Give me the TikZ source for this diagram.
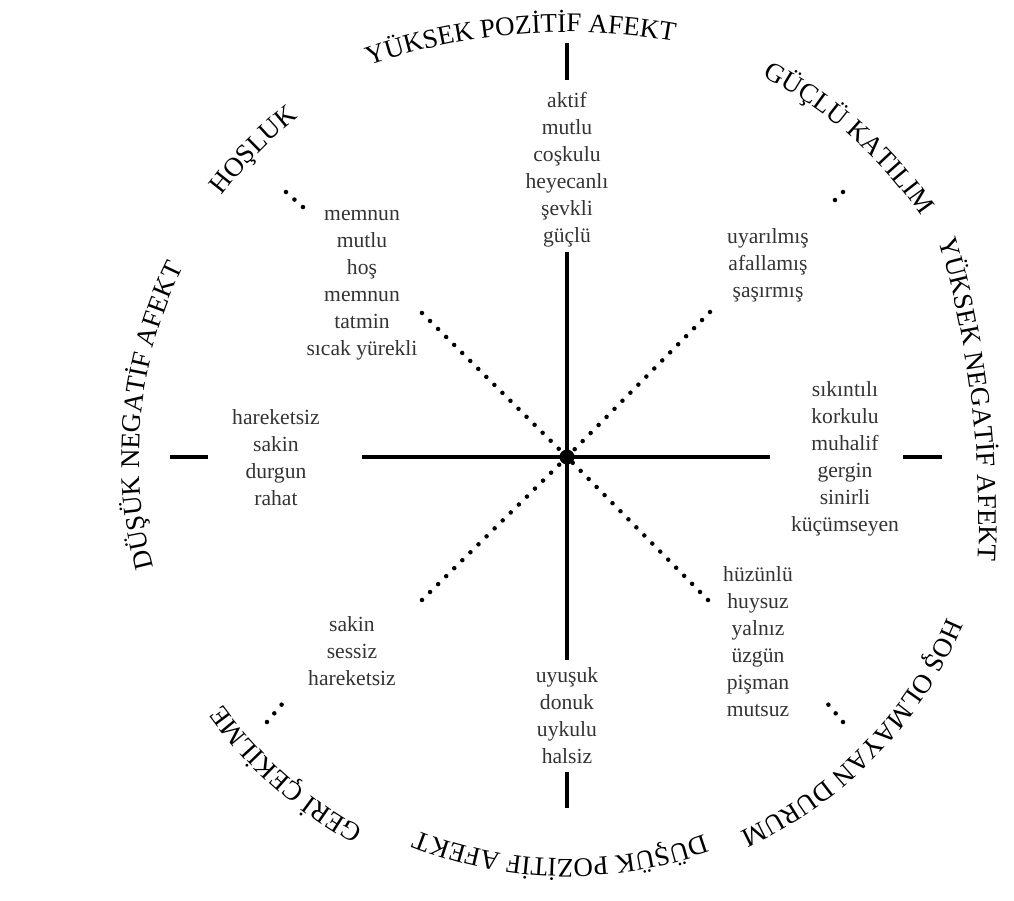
\documentclass[tikz,border=0pt]{standalone}
\usepackage{fontspec}
\setmainfont{Liberation Serif}
\usetikzlibrary{decorations.text}

\newcommand{\lblfont}{\fontsize{20.2}{24}\selectfont}
\newcommand{\wordfont}{\fontsize{16.2}{20.25}\selectfont}

\tikzset{
  axis/.style={line width=3.6pt},
  dotline/.style={line width=3.4pt, line cap=round, dash pattern=on 0pt off 8.5pt},
  words/.style={align=center, inner sep=0pt, text=black!80, font=\wordfont},
  arclabel/.style={decorate, decoration={text along path, text align=center,
      text={|\lblfont|#1}}}
}

\begin{document}
\begin{tikzpicture}[x=0.75pt,y=0.75pt]
  \useasboundingbox (-567,-443) rectangle (447,457);

  % Coordinates
  \coordinate (c) at (0,0);
  \coordinate (n-in) at (0,205);     \coordinate (n-a) at (0,377);    \coordinate (n-b) at (0,414);
  \coordinate (s-in) at (0,-203);    \coordinate (s-a) at (0,-315);   \coordinate (s-b) at (0,-351);
  \coordinate (w-in) at (-205,0);    \coordinate (w-a) at (-359,0);   \coordinate (w-b) at (-397,0);
  \coordinate (e-in) at (203,0);     \coordinate (e-a) at (336,0);    \coordinate (e-b) at (375,0);
  \coordinate (nw-in) at (-145,144); \coordinate (nw-a) at (-263,249); \coordinate (nw-b) at (-281,265);
  \coordinate (ne-in) at (143,145);  \coordinate (ne-a) at (260,249);  \coordinate (ne-b) at (276,265);
  \coordinate (sw-in) at (-145,-143); \coordinate (sw-a) at (-284,-246); \coordinate (sw-b) at (-300,-265);
  \coordinate (se-in) at (141,-143); \coordinate (se-a) at (260,-246); \coordinate (se-b) at (276,-265);

  % dotted diagonals with their outer stubs
  \foreach \d in {nw,ne,sw,se}{
    \draw[dotline] (\d-in) -- (c);
    \draw[dotline] (\d-b) -- (\d-a);
  }

  % solid axes with their outer stubs
  \draw[axis] (n-in) -- (s-in);
  \draw[axis] (w-in) -- (e-in);
  \foreach \d in {n,s,w,e}
    \draw[axis] (\d-a) -- (\d-b);
  \fill (c) circle[radius=7.5];

  % word lists
  \node[words] (hpa) at (0,287.5) {aktif\\mutlu\\coşkulu\\heyecanlı\\şevkli\\güçlü};
  \node[words] (ple) at (-205,171.5) {memnun\\mutlu\\hoş\\memnun\\tatmin\\sıcak yürekli};
  \node[words] (eng) at (201,192) {uyarılmış\\afallamış\\şaşırmış};
  \node[words] (lna) at (-291,-0.5) {hareketsiz\\sakin\\durgun\\rahat};
  \node[words] (hna) at (278,-1.5) {sıkıntılı\\korkulu\\muhalif\\gergin\\sinirli\\küçümseyen};
  \node[words] (dis) at (-215,-194.5) {sakin\\sessiz\\hareketsiz};
  \node[words] (lpa) at (0,-259) {uyuşuk\\donuk\\uykulu\\halsiz};
  \node[words] (unp) at (191,-184.5) {hüzünlü\\huysuz\\yalnız\\üzgün\\pişman\\mutsuz};

  % label the octants along the rim
  \path[arclabel={YÜKSEK POZİTİF AFEKT}] ([shift={(0,-175)}]134.5:600) arc[start angle=134.5, end angle=54.5, radius=600];
  \path[arclabel={GÜÇLÜ KATILIM}] (88.5:428) arc[start angle=88.5, end angle=8.5, radius=428];
  \path[arclabel={YÜKSEK NEGATİF AFEKT}] ([shift={(-588,-64)}]32:1000) arc[start angle=32, end angle=-18, radius=1000];
  \path[arclabel={HOŞ OLMAYAN DURUM}] (-4:413) arc[start angle=-4, end angle=-84, radius=413];
  \path[arclabel={DÜŞÜK POZİTİF AFEKT}] (-50.9:402) arc[start angle=-50.9, end angle=-130.9, radius=402];
  \path[arclabel={GERİ ÇEKİLME}] (-91.5:424) arc[start angle=-91.5, end angle=-171.5, radius=424];
  \path[arclabel={DÜŞÜK NEGATİF AFEKT}] (214.3:428) arc[start angle=214.3, end angle=134.3, radius=428];
  \path[arclabel={HOŞLUK}] (175.6:433) arc[start angle=175.6, end angle=95.6, radius=433];

\end{tikzpicture}
\end{document}
